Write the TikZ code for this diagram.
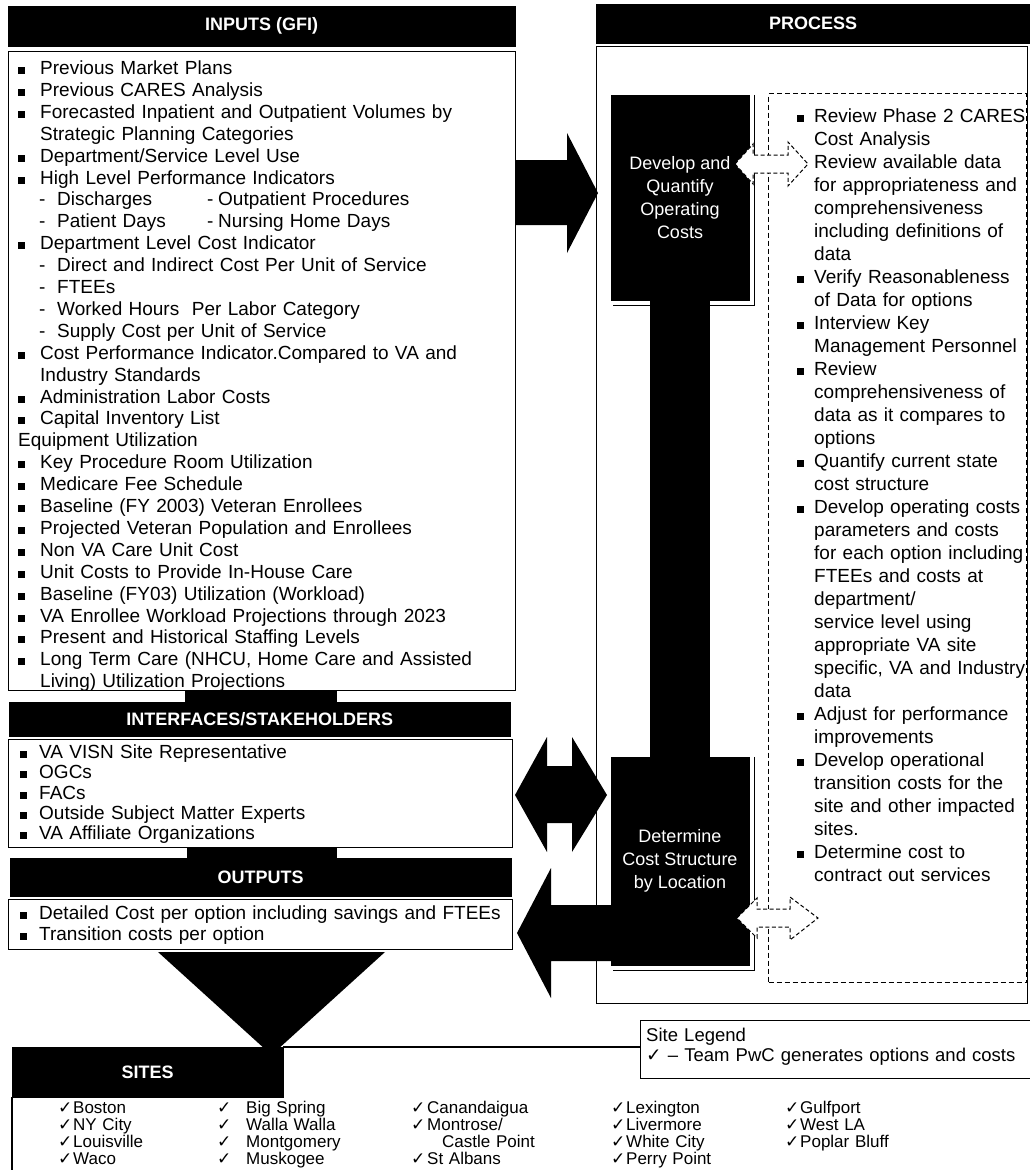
\documentclass[tikz,border=0pt]{standalone}
\usepackage{fontspec}
\setmainfont{Liberation Sans}
\newfontfamily\checkfont{DejaVu Sans}
\lineskiplimit=-30pt
% list markers
\newcommand\sqbul{\rule[0.5pt]{7pt}{7pt}}
\newcommand\ibul{\makebox[22pt][l]{\sqbul}}
\newcommand\icont{\hspace*{22pt}}
\newcommand\isub{\hspace*{21pt}\makebox[18pt][l]{-}}
\newcommand\jbul{\makebox[19pt][l]{\sqbul}}
\newcommand\pbul{\makebox[17pt][l]{\sqbul}}
\newcommand\pcont{\hspace*{17pt}}
\newcommand\chk{{\checkfont ✓}}
\newcommand\hdrfont{\fontsize{18}{20}\selectfont\bfseries}
\begin{document}
\begin{tikzpicture}[x=1pt,y=-1pt,
  hdr/.style={fill=black, draw=black, text=white, font=\hdrfont, inner sep=0pt, anchor=north west},
  panel/.style={draw=black, line width=1.3pt, inner sep=0pt, anchor=north west},
  blk/.style={fill=black, draw=black, text=white, align=center, inner sep=0pt,
              font={\fontsize{18}{23}\selectfont}},
  lst/.style={anchor=base west, inner sep=0pt, text width=#1, align=left},
  hollow/.style={fill=white, draw=black, line width=1pt, dash pattern=on 4pt off 2.5pt},
  dashbox/.style={draw=black, line width=1pt, dash pattern=on 5pt off 3pt, inner sep=0pt, anchor=north west},
]
\useasboundingbox (0,0) rectangle (1029,1170);
\fill[white] (0,0) rectangle (1029,1170);

% ---------- left column ----------
\node[hdr, minimum width=507pt, minimum height=40pt] (inhdr) at (8,6) {INPUTS (GFI)};
\node[panel, minimum width=507pt, minimum height=639pt] (inbox) at (8,51) {};
\fill (185,690) rectangle (337,703);
\node[hdr, minimum width=501pt, minimum height=34pt] (ifhdr) at (9,702) {INTERFACES/STAKEHOLDERS};
\node[panel, minimum width=504pt, minimum height=108pt] (ifbox) at (8,739) {};
\fill (187,847) rectangle (337,859);
\node[hdr, minimum width=501pt, minimum height=38pt] (outhdr) at (10,858) {OUTPUTS};
\node[panel, minimum width=504pt, minimum height=50pt] (outbox) at (8,899) {};

\node[lst=495pt, font={\fontsize{19}{21.9}\selectfont}] (inlist) at (18,74.5) {%
\ibul Previous Market Plans\\
\ibul Previous CARES Analysis\\
\ibul Forecasted Inpatient and Outpatient Volumes by\\
\icont Strategic Planning Categories\\
\ibul Department/Service Level Use\\
\ibul High Level Performance Indicators\\
\isub\makebox[150pt][l]{Discharges}\makebox[11pt][l]{-}Outpatient Procedures\\
\isub\makebox[150pt][l]{Patient Days}\makebox[11pt][l]{-}Nursing Home Days\\
\ibul Department Level Cost Indicator\\
\isub Direct and Indirect Cost Per Unit of Service\\
\isub FTEEs\\
\isub Worked Hours\ \ Per Labor Category\\
\isub Supply Cost per Unit of Service\\
\ibul Cost Performance Indicator.Compared to VA and\\
\icont Industry Standards\\
\ibul Administration Labor Costs\\
\ibul Capital Inventory List\\
Equipment Utilization\\
\ibul Key Procedure Room Utilization\\
\ibul Medicare Fee Schedule\\
\ibul Baseline (FY 2003) Veteran Enrollees\\
\ibul Projected Veteran Population and Enrollees\\
\ibul Non VA Care Unit Cost\\
\ibul Unit Costs to Provide In-House Care\\
\ibul Baseline (FY03) Utilization (Workload)\\
\ibul VA Enrollee Workload Projections through 2023\\
\ibul Present and Historical Staffing Levels\\
\ibul Long Term Care (NHCU, Home Care and Assisted\\
\icont Living) Utilization Projections};

\node[lst=490pt, font={\fontsize{19}{20.3}\selectfont}] (iflist) at (20,758.5) {%
\jbul VA VISN Site Representative\\
\jbul OGCs\\
\jbul FACs\\
\jbul Outside Subject Matter Experts\\
\jbul VA Affiliate Organizations};

\node[lst=510pt, font={\fontsize{19}{20.5}\selectfont}] (outlist) at (20,919.5) {%
\jbul Detailed Cost per option including savings and FTEEs\\
\jbul Transition costs per option};

% ---------- process column ----------
\node[hdr, minimum width=434pt, minimum height=39pt] (prochdr) at (596,4) {PROCESS};
\node[panel, minimum width=431pt, minimum height=957pt] (procbox) at (596,46) {};
\node[dashbox, minimum width=258pt, minimum height=889pt] (steps) at (768,93) {};

\node[lst=240pt, font={\fontsize{19}{23}\selectfont}] (steplist) at (797,122.5) {%
\pbul Review Phase 2 CARES\\
\pcont Cost Analysis\\
\pbul Review available data\\
\pcont for appropriateness and\\
\pcont comprehensiveness\\
\pcont including definitions of\\
\pcont data\\
\pbul Verify Reasonableness\\
\pcont of Data for options\\
\pbul Interview Key\\
\pcont Management Personnel\\
\pbul Review\\
\pcont comprehensiveness of\\
\pcont data as it compares to\\
\pcont options\\
\pbul Quantify current state\\
\pcont cost structure\\
\pbul Develop operating costs\\
\pcont parameters and costs\\
\pcont for each option including\\
\pcont FTEEs and costs at\\
\pcont department/\\
\pcont service level using\\
\pcont appropriate VA site\\
\pcont specific, VA and Industry\\
\pcont data\\
\pbul Adjust for performance\\
\pcont improvements\\
\pbul Develop operational\\
\pcont transition costs for the\\
\pcont site and other impacted\\
\pcont sites.\\
\pbul Determine cost to\\
\pcont contract out services};

\node[blk, minimum width=138pt, minimum height=205pt] (dev) at (680,197.5)
  {Develop and\\Quantify\\Operating\\Costs};
\node[blk, minimum width=138pt, minimum height=208pt] (det) at (680,861)
  {Determine\\Cost Structure\\by Location};
\draw[line width=60pt] (dev.south) -- (det.north);
\draw[line width=1pt] ([xshift=5pt]dev.north east) -- ([shift={(5pt,-5pt)}]dev.south east)
  -- ([shift={(2pt,-5pt)}]dev.south west);
\draw[line width=1pt] ([xshift=5pt]det.north east) -- ([shift={(5pt,-5pt)}]det.south east)
  -- ([shift={(2pt,-5pt)}]det.south west);

% ---------- block arrows ----------
\fill (515,160) -- (567,160) -- (567,133) -- (598,193) -- (567,253) -- (567,225) -- (515,225) -- cycle;
\fill (515,795) -- (547,737) -- (547,766) -- (572,766) -- (572,737) -- (607,795)
  -- (572,852) -- (572,823) -- (547,823) -- (547,852) -- cycle;
\fill (517,933) -- (551,868) -- (551,905) -- (det.west |- 0,905) -- (det.west |- 0,961)
  -- (551,961) -- (551,998) -- cycle;
\fill (158,952) -- (385,952) -- (271.5,1055) -- cycle;

% white two-way links between the process boxes and the step list
\path[hollow] (735,164) -- (753,144) -- (753,155) -- (788,155) -- (788,142) -- (808,164)
  -- (788,186) -- (788,173) -- (753,173) -- (753,184) -- cycle;
\path[hollow] (737,918) -- (757,898) -- (757,909) -- (790,909) -- (790,897) -- (818,918)
  -- (790,940) -- (790,927) -- (757,927) -- (757,938) -- cycle;

% ---------- sites ----------
\node[hdr, minimum width=271pt, minimum height=50pt] (sitehdr) at (12,1047) {SITES};
\draw[line width=1.3pt] (sitehdr.south west) -- (12,1170);
\node[panel, minimum width=390pt, minimum height=58pt] (legend) at (640,1020) {};
\node[lst=385pt, font={\fontsize{18.5}{20}\selectfont}] (legtext) at (646,1041)
  {Site Legend\\\chk\ – Team PwC generates options and costs};
\coordinate (fork) at (283,1047);
\draw[line width=1.3pt] (fork) -- (legend.west |- fork);

\begin{scope}[every node/.style={lst=190pt, font={\fontsize{17}{17}\selectfont}}]
\node (s1) at (58,1113) {%
\makebox[15pt][l]{\chk}Boston\\\makebox[15pt][l]{\chk}NY City\\
\makebox[15pt][l]{\chk}Louisville\\\makebox[15pt][l]{\chk}Waco};
\node (s2) at (217,1113) {%
\makebox[29pt][l]{\chk}Big Spring\\\makebox[29pt][l]{\chk}Walla Walla\\
\makebox[29pt][l]{\chk}Montgomery\\\makebox[29pt][l]{\chk}Muskogee};
\node (s3) at (411,1113) {%
\makebox[16pt][l]{\chk}Canandaigua\\\makebox[16pt][l]{\chk}Montrose/\\
\hspace*{31pt}Castle Point\\\makebox[16pt][l]{\chk}St Albans};
\node (s4) at (611,1113) {%
\makebox[15pt][l]{\chk}Lexington\\\makebox[15pt][l]{\chk}Livermore\\
\makebox[15pt][l]{\chk}White City\\\makebox[15pt][l]{\chk}Perry Point};
\node (s5) at (785,1113) {%
\makebox[15pt][l]{\chk}Gulfport\\\makebox[15pt][l]{\chk}West LA\\
\makebox[15pt][l]{\chk}Poplar Bluff};
\end{scope}
\end{tikzpicture}
\end{document}
